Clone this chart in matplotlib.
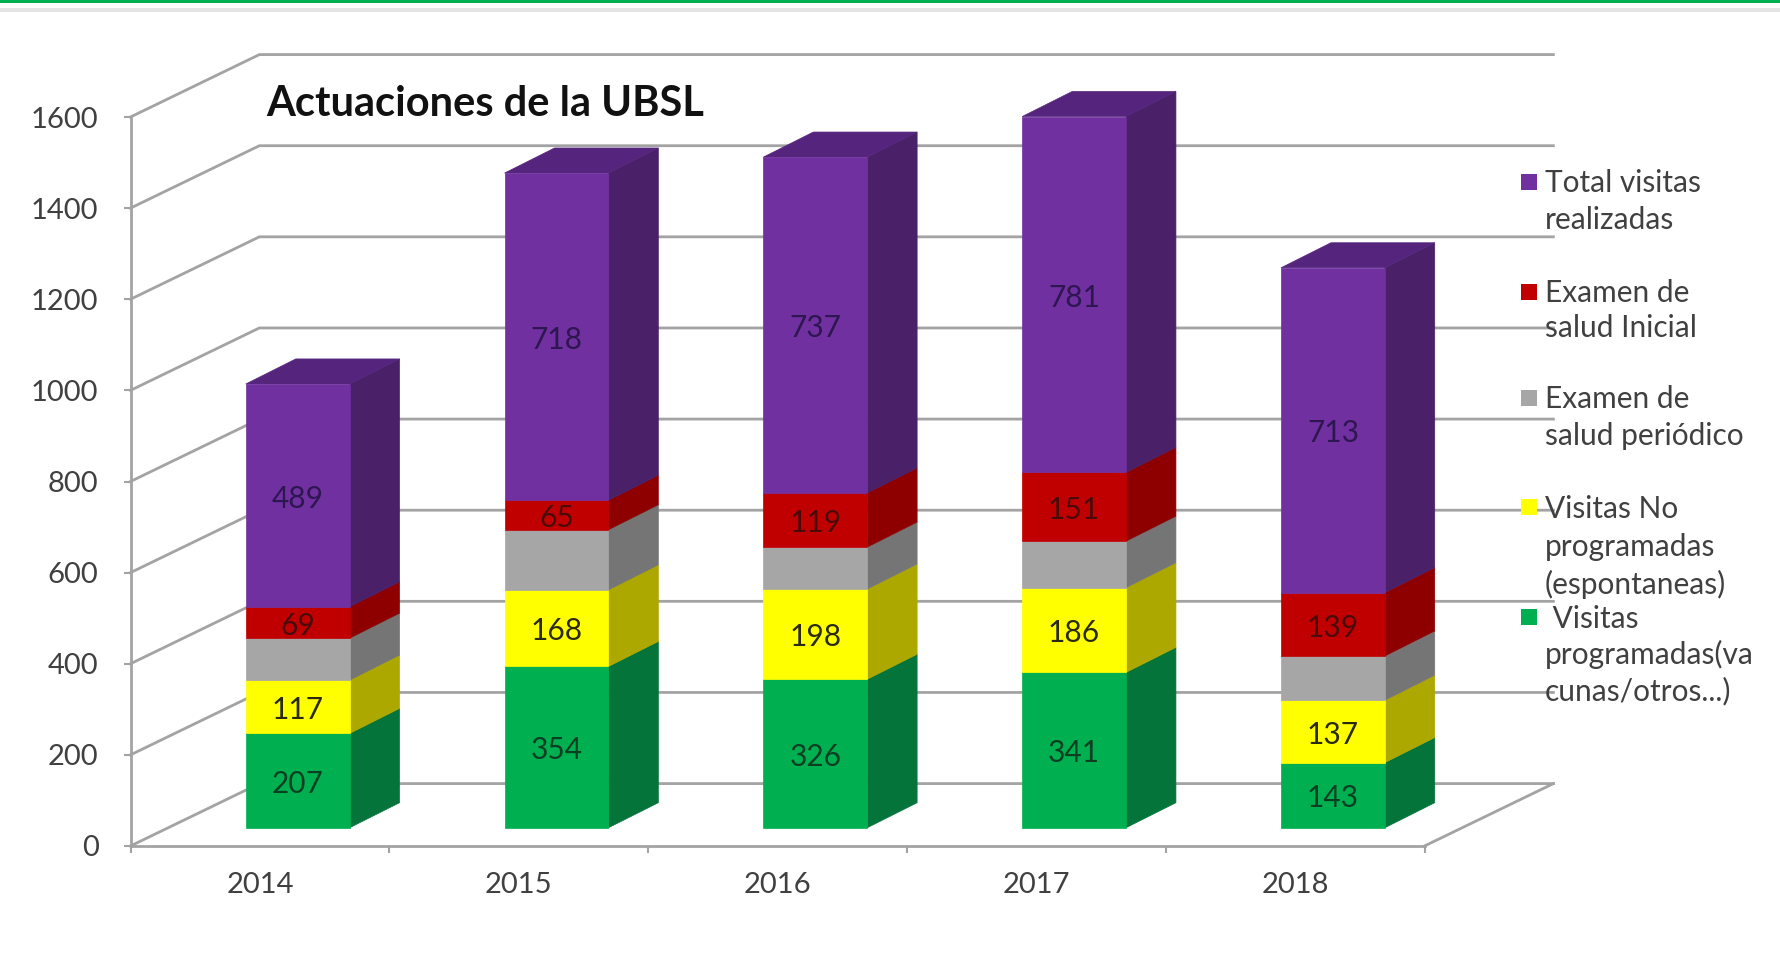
import matplotlib
matplotlib.use("Agg")
import matplotlib.pyplot as plt
from matplotlib.patches import Polygon, Rectangle

plt.rcParams["font.family"] = ["Lato", "DejaVu Sans"]

years = ["2014", "2015", "2016", "2017", "2018"]
programadas = [207, 354, 326, 341, 143]
no_programadas = [117, 168, 198, 186, 137]
periodico = [92, 132, 92, 102, 97]
inicial = [69, 65, 119, 151, 139]
total = [489, 718, 737, 781, 713]
y_ticks = [0, 200, 400, 600, 800, 1000, 1200, 1400, 1600]

# bottom to top: values, front colour, side colour, label colour (None = no label)
series = [
    (programadas, "#00B050", "#04743A", "#0B3F22"),
    (no_programadas, "#FFFF00", "#ADA800", "#2A2A10"),
    (periodico, "#A6A6A6", "#757575", None),
    (inicial, "#C00000", "#8E0000", "#4A0A0A"),
    (total, "#7030A0", "#4A2068", "#2E1650"),
]
top_color = "#55257E"

legend_items = [
    ("#7030A0", 182, [("Total visitas", 183), ("realizadas", 220)]),
    ("#C00000", 292, [("Examen de", 293), ("salud Inicial", 328)]),
    ("#A6A6A6", 398, [("Examen de", 399), ("salud periódico", 436)]),
    ("#FFFF00", 507, [("Visitas No", 509), ("programadas", 547), ("(espontaneas)", 584)]),
    ("#00B050", 617, [(" Visitas", 619), ("programadas(va", 654), ("cunas/otros...)", 691)]),
]

W, H = 1780, 965
GRID = "#A3A3A3"
TEXT = "#404040"

# wall depth and bar geometry, in data units
WALL_DX, WALL_DY = 0.498, 137
BAR_SHIFT, BAR_LIFT = 0.146, 40
BAR_W = 0.401
BAR_DX, BAR_DY = 0.193, 55


def fx(px):
    return px / W


def fy(px):
    return 1 - px / H


fig = plt.figure(figsize=(W / 100, H / 100), dpi=100, facecolor="white")
ax = fig.add_axes([fx(130.5), fy(846), (1424.5 - 130.5) / W, (846 - 117) / H])
ax.set_xlim(0, 5)
ax.set_ylim(0, 1600)
ax.patch.set_alpha(0)

# page decoration of the slide
fig.add_artist(Rectangle((0, fy(2.5)), 1, 2.5 / H, transform=fig.transFigure, color="#00B050", lw=0))
fig.add_artist(Rectangle((0, fy(12)), 1, 4 / H, transform=fig.transFigure, color="#E4E4E4", lw=0))

# back wall and floor
for t in y_ticks:
    ax.plot([0, WALL_DX, 5 + WALL_DX], [t, t + WALL_DY, t + WALL_DY],
            color=GRID, lw=2, clip_on=False, zorder=1)
ax.plot([5, 5 + WALL_DX], [0, WALL_DY], color=GRID, lw=2, clip_on=False, zorder=1)

# stacked boxes
for i in range(len(years)):
    x0 = i + 0.5 + BAR_SHIFT - BAR_W / 2
    x1 = x0 + BAR_W
    base = BAR_LIFT
    for values, front, side, label_color in series:
        top = base + values[i]
        ax.add_patch(Polygon([(x1, base), (x1 + BAR_DX, base + BAR_DY),
                              (x1 + BAR_DX, top + BAR_DY), (x1, top)],
                             facecolor=side, edgecolor=side, lw=0.5, clip_on=False, zorder=3))
        ax.add_patch(Polygon([(x0, base), (x1, base), (x1, top), (x0, top)],
                             facecolor=front, edgecolor=front, lw=0.5, clip_on=False, zorder=4))
        if label_color:
            ax.text((x0 + x1) / 2, (base + top) / 2 - 7, str(values[i]), ha="center", va="center",
                    fontsize=21.5, color=label_color, zorder=6)
        base = top
    ax.add_patch(Polygon([(x0, base), (x1, base), (x1 + BAR_DX, base + BAR_DY), (x0 + BAR_DX, base + BAR_DY)],
                         facecolor=top_color, edgecolor=top_color, lw=0.5, clip_on=False, zorder=3))

for s in ["top", "right"]:
    ax.spines[s].set_visible(False)
for s in ["left", "bottom"]:
    ax.spines[s].set_color(GRID)
    ax.spines[s].set_linewidth(2)
    ax.spines[s].set_zorder(2)

ax.set_yticks(y_ticks)
ax.set_xticks(range(6))
ax.set_xticklabels([])
ax.set_xticks([i + 0.5 for i in range(5)], labels=years, minor=True)
ax.tick_params(axis="y", length=5, width=1.5, color=GRID, labelsize=21, labelcolor=TEXT, pad=18)
ax.tick_params(axis="x", which="major", length=5, width=1.5, color=GRID)
ax.tick_params(axis="x", which="minor", length=0, labelsize=21, labelcolor=TEXT, pad=19)

fig.text(fx(266), fy(104), "Actuaciones de la UBSL", fontsize=30, fontweight="bold",
         color="#111111", va="center", ha="left", zorder=10)

# hand placed legend, the line spacing in the original is uneven
for color, marker_y, lines in legend_items:
    fig.add_artist(Rectangle((fx(1521), fy(marker_y + 8)), 16 / W, 16 / H,
                             transform=fig.transFigure, color=color, lw=0, zorder=10))
    for line, text_y in lines:
        fig.text(fx(1545), fy(text_y), line, fontsize=21.5, color=TEXT, va="center", ha="left", zorder=10)

fig.savefig("out.png", dpi=100)
